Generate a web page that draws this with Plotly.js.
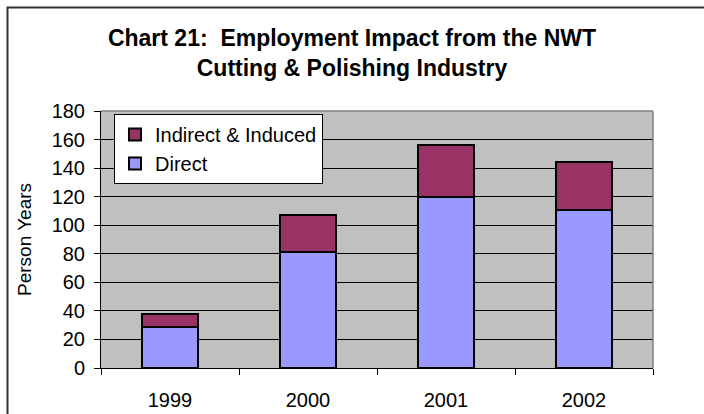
<!DOCTYPE html>
<html>
<head>
<meta charset="utf-8">
<script src="https://cdn.plot.ly/plotly-3.0.1.min.js"></script>
<style>html,body{margin:0;padding:0;background:#fff;}#chart{width:704px;height:414px;}</style>
</head>
<body>
<div id="chart"></div>
<script>
var years = ["1999", "2000", "2001", "2002"];
var direct = [29, 81, 120, 110.5];
var indirectInduced = [9, 26, 36, 34];
var yTickVals = [0, 20, 40, 60, 80, 100, 120, 140, 160, 180];

var W = 704, H = 414;
var L = 101, R = 51, T = 111, B = 46;
var pw = W - L - R, ph = H - T - B;
function px(x) { return (x - L) / pw; }
function py(y) { return (H - B - y) / ph; }

var traces = [
  {
    type: "bar", name: "Direct", x: years, y: direct,
    marker: {color: "#9999FF", line: {color: "#000000", width: 2}},
    hoverinfo: "skip"
  },
  {
    type: "bar", name: "Indirect & Induced", x: years, y: indirectInduced,
    marker: {color: "#993366", line: {color: "#000000", width: 2}},
    hoverinfo: "skip"
  }
];

var layout = {
  width: W, height: H,
  margin: {l: L, r: R, t: T, b: B, pad: 0},
  paper_bgcolor: "#ffffff",
  plot_bgcolor: "#C0C0C0",
  font: {family: "Liberation Sans, Arial, sans-serif", size: 20, color: "#000000"},
  barmode: "stack",
  bargap: 0.59,
  showlegend: true,
  title: {
    text: "<b>Chart 21:  Employment Impact from the NWT<br>Cutting &amp; Polishing Industry</b>",
    font: {family: "Liberation Sans, Arial, sans-serif", size: 23, color: "#000000"},
    x: 0.5, xanchor: "center",
    y: 1 - 46 / H, yanchor: "middle"
  },
  xaxis: {
    type: "category",
    showgrid: false,
    showline: true, linecolor: "#000000", linewidth: 1,
    ticks: "outside", tickson: "boundaries", ticklen: 6, tickcolor: "#000000",
    tickfont: {size: 20},
    ticklabelstandoff: 14,
    zeroline: false,
    fixedrange: true
  },
  yaxis: {
    range: [0, 180],
    tickvals: yTickVals,
    showgrid: true, gridcolor: "#000000", gridwidth: 1,
    showline: true, linecolor: "#000000", linewidth: 1,
    ticks: "outside", ticklen: 6, tickcolor: "#000000",
    tickfont: {size: 20},
    ticklabelstandoff: 5,
    zeroline: false,
    title: {text: "Person Years", font: {size: 19}, standoff: 14},
    fixedrange: true
  },
  legend: {
    x: px(114), y: py(114), xanchor: "left", yanchor: "top",
    bgcolor: "#ffffff", bordercolor: "#000000", borderwidth: 1,
    font: {size: 20},
    traceorder: "reversed",
    itemsizing: "constant"
  },
  shapes: [
    {type: "line", xref: "paper", yref: "paper", x0: 1, x1: 1, y0: 0, y1: 1,
     line: {color: "#808080", width: 1.5}},
    {type: "line", xref: "paper", yref: "paper", x0: 0, x1: 1, y0: 1, y1: 1,
     line: {color: "#808080", width: 1.5}},
    {type: "path", xref: "paper", yref: "paper",
     path: "M " + px(7.5) + " " + py(420) + " L " + px(7.5) + " " + py(7.5) + " L " + px(710) + " " + py(7.5),
     line: {color: "#333333", width: 2}}
  ]
};

Plotly.newPlot("chart", traces, layout, {displayModeBar: false, staticPlot: true});
</script>
</body>
</html>
